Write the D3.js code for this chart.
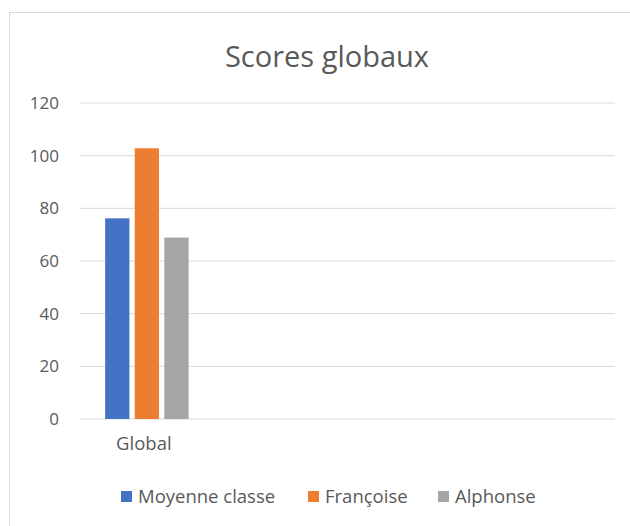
<!DOCTYPE html>
<html>
<head>
<meta charset="utf-8">
<script src="https://cdn.jsdelivr.net/npm/d3@7"></script>
<style>
  body { margin: 0; background: #fff; }
  text { font-family: "Open Sans", "Noto Sans", sans-serif; fill: #595959; }
</style>
</head>
<body>
<div id="chart"></div>
<script>
// chart values
const categories = ["Global", "", "", ""];
const seriesNames = ["Moyenne classe", "Françoise", "Alphonse"];
const seriesValues = [[76.2], [102.8], [68.9]];
const yTicks = [0, 20, 40, 60, 80, 100, 120];
const COLORS = ["#4472c4", "#ed7d31", "#a5a5a5"];

const W = 630, H = 526;
const margin = {top: 103, right: 15, bottom: 107, left: 80};
const w = W - margin.left - margin.right;
const h = H - margin.top - margin.bottom;

const svg = d3.select("#chart")
  .append("svg")
  .attr("width", W)
  .attr("height", H);

// chart area frame (only top/left edges visible in the crop)
svg.append("rect")
  .attr("x", 9.5).attr("y", 12.5)
  .attr("width", W + 20).attr("height", H + 20)
  .attr("fill", "none")
  .attr("stroke", "#d9d9d9");

// title
svg.append("text")
  .attr("x", 327).attr("y", 67)
  .attr("text-anchor", "middle")
  .style("font-size", "29px")
  .text("Scores globaux");

const g = svg.append("g")
  .attr("transform", `translate(${margin.left},${margin.top})`);

// Y SCALE
const y = d3.scaleLinear().domain([0, 120]).range([h, 0]);

// gridlines
g.selectAll(".grid")
  .data(yTicks)
  .enter()
  .append("line")
  .attr("x1", 0).attr("x2", w)
  .attr("y1", d => y(d)).attr("y2", d => y(d))
  .attr("stroke", "#d9d9d9")
  .attr("stroke-width", 1);

// Y AXIS labels
const yAxis = g.append("g")
  .call(d3.axisLeft(y).tickValues(yTicks).tickSize(0).tickPadding(21));
yAxis.select(".domain").remove();
yAxis.selectAll("text")
  .style("font-size", "17px")
  .attr("fill", "#595959");

// X SCALE (one band per category index)
const x = d3.scaleBand()
  .domain(d3.range(categories.length))
  .range([0, w]);

const xs = d3.scaleBand()
  .domain(d3.range(seriesNames.length))
  .range([0, x.bandwidth()])
  .paddingInner(0.18)
  .paddingOuter(0.85);

const xAxis = g.append("g")
  .attr("transform", `translate(0,${h})`)
  .call(d3.axisBottom(x).tickFormat(i => categories[i]).tickSize(0).tickPadding(18));
xAxis.select(".domain").remove();
xAxis.selectAll("text")
  .attr("dx", -3)
  .style("font-size", "18.5px")
  .attr("fill", "#595959");

// bars
seriesNames.forEach(function(name, s) {
  g.selectAll(".bar" + s)
    .data(seriesValues[s])
    .enter()
    .append("rect")
    .attr("x", (d, i) => x(i) + xs(s))
    .attr("y", d => y(d))
    .attr("width", xs.bandwidth())
    .attr("height", d => h - y(d))
    .attr("fill", COLORS[s]);
});

// legend
const legendX = [121, 308, 438];
const legend = svg.append("g");
seriesNames.forEach(function(name, s) {
  legend.append("rect")
    .attr("x", legendX[s]).attr("y", 491)
    .attr("width", 11).attr("height", 11)
    .attr("fill", COLORS[s]);
  legend.append("text")
    .attr("x", legendX[s] + 17).attr("y", 503)
    .style("font-size", "18.5px")
    .text(name);
});
</script>
</body>
</html>
